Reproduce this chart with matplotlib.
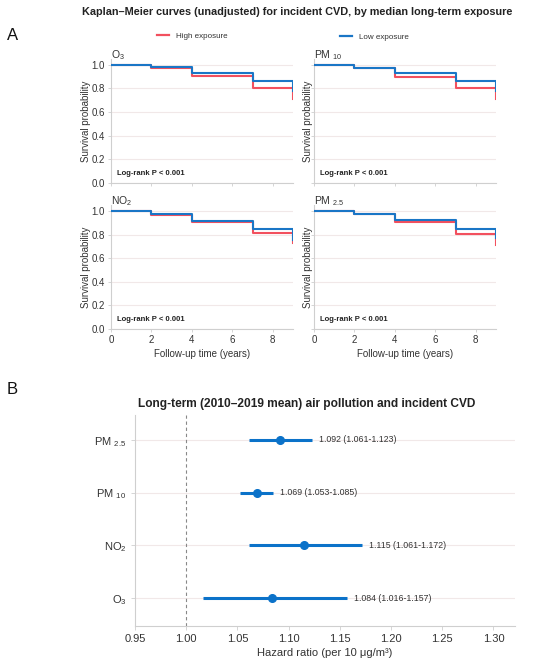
import matplotlib
matplotlib.use("Agg")
import matplotlib.pyplot as plt
from matplotlib.lines import Line2D

plt.rcParams['font.family'] = ['Liberation Sans', 'DejaVu Sans']
plt.rcParams['mathtext.fontset'] = 'custom'
plt.rcParams['mathtext.rm'] = 'Liberation Sans'

# ---- Data ----
km_times = [0, 2, 4, 7, 9]
km_panels = ['O$_3$', 'PM $_{10}$', 'NO$_2$', 'PM $_{2.5}$']
km_high = [
    [1.0, 0.972, 0.901, 0.803, 0.710],
    [1.0, 0.972, 0.900, 0.803, 0.710],
    [1.0, 0.969, 0.904, 0.812, 0.725],
    [1.0, 0.972, 0.907, 0.803, 0.710],
]
km_low = [
    [1.0, 0.983, 0.927, 0.859, 0.775],
    [1.0, 0.975, 0.927, 0.859, 0.775],
    [1.0, 0.978, 0.918, 0.846, 0.750],
    [1.0, 0.972, 0.921, 0.851, 0.770],
]
logrank_text = 'Log-rank P < 0.001'

forest_labels = ['O$_3$', 'NO$_2$', 'PM $_{10}$', 'PM $_{2.5}$']
forest_hr = [1.084, 1.115, 1.069, 1.092]
forest_lo = [1.016, 1.061, 1.053, 1.061]
forest_hi = [1.157, 1.172, 1.085, 1.123]
forest_ticks = [0.95, 1.00, 1.05, 1.10, 1.15, 1.20, 1.25, 1.30]

RED = '#f2505e'
BLUE = '#1a76c6'
FBLUE = '#0b72c9'
GRID = '#f1e8e8'
SPINE = '#cfcfcf'
TXT = '#333333'

fig = plt.figure(figsize=(5.5, 6.63), dpi=100)

W, H = 550.0, 663.0
def ax_rect(l, r, t, b):
    return [l / W, 1 - b / H, (r - l) / W, (b - t) / H]

rects = [
    ax_rect(111, 293, 58.8, 183),
    ax_rect(314, 496, 58.8, 183),
    ax_rect(111, 293, 205, 329),
    ax_rect(314, 496, 205, 329),
]

for i, rect in enumerate(rects):
    ax = fig.add_axes(rect)
    ax.step(km_times, km_high[i], where='post', color=RED, lw=1.5, zorder=3)
    ax.step(km_times, km_low[i], where='post', color=BLUE, lw=1.5, zorder=4)
    ax.set_xlim(0, 9)
    ax.set_ylim(0, 1.05)
    ax.set_yticks([0.0, 0.2, 0.4, 0.6, 0.8, 1.0])
    ax.set_xticks([0, 2, 4, 6, 8])
    ax.grid(axis='y', color=GRID, lw=0.8)
    ax.set_axisbelow(True)
    for s in ['top', 'right']:
        ax.spines[s].set_visible(False)
    for s in ['left', 'bottom']:
        ax.spines[s].set_color(SPINE)
        ax.spines[s].set_linewidth(0.8)
    ax.tick_params(length=2.5, width=0.6, color=SPINE, labelsize=7, labelcolor=TXT, pad=2)
    if i % 2 == 0:
        ax.set_yticklabels(['0.0', '0.2', '0.4', '0.6', '0.8', '1.0'])
        ax.set_ylabel('Survival probability', fontsize=7, color=TXT, labelpad=0)
    else:
        ax.tick_params(axis='y', labelleft=False)
        ax.set_ylabel('Survival probability', fontsize=7, color=TXT, labelpad=-1.5)
    if i < 2:
        ax.tick_params(axis='x', labelbottom=False)
    else:
        ax.set_xlabel('Follow-up time (years)', fontsize=7, color=TXT, labelpad=2.5)
    ax.text(0.0, 1.03, km_panels[i], transform=ax.transAxes, fontsize=7.5,
            color=TXT, ha='left', va='center')
    ax.text(0.033, 0.08, logrank_text, transform=ax.transAxes, fontsize=5.5,
            fontweight='bold', color='#222222', ha='left', va='center')

fig.text(297 / W, 1 - 12 / H, 'Kaplan\u2013Meier curves (unadjusted) for incident CVD, by median long-term exposure',
         ha='center', va='center', fontsize=7.8, fontweight='bold', color='#222222')
fig.text(13 / W, 1 - 35 / H, 'A', fontsize=12, ha='center', va='center', color='#111111')
fig.text(12 / W, 1 - 390 / H, 'B', fontsize=12, ha='center', va='center', color='#111111')

leg1 = fig.legend([Line2D([0], [0], color=RED, lw=1.6)], ['High exposure'],
                  loc='center left', bbox_to_anchor=(157 / W, 1 - 36 / H), frameon=False,
                  fontsize=5.8, handlelength=1.5, handletextpad=0.8, borderpad=0, borderaxespad=0)
for t in leg1.get_texts():
    t.set_color(TXT)
leg2 = fig.legend([Line2D([0], [0], color=BLUE, lw=1.6)], ['Low exposure'],
                  loc='center left', bbox_to_anchor=(340 / W, 1 - 37 / H), frameon=False,
                  fontsize=5.8, handlelength=1.5, handletextpad=0.8, borderpad=0, borderaxespad=0)
for t in leg2.get_texts():
    t.set_color(TXT)

# ---- Forest plot ----
axf = fig.add_axes(ax_rect(135, 515, 415, 626))
ypos = list(range(len(forest_labels)))
for y, hr, lo, hi in zip(ypos, forest_hr, forest_lo, forest_hi):
    axf.plot([lo, hi], [y, y], color=FBLUE, lw=2.2, solid_capstyle='butt', zorder=3)
    axf.plot([hr], [y], 'o', color=FBLUE, ms=5.5, zorder=4)
    axf.text(hi + 0.0065, y, f'{hr:.3f} ({lo:.3f}-{hi:.3f})', fontsize=6.3,
             color=TXT, ha='left', va='center')
axf.axvline(1.0, color='#888888', lw=0.8, ls=(0, (3, 2.5)), zorder=2)
axf.set_xlim(0.95, 1.321)
axf.set_ylim(-0.53, 3.47)
axf.set_yticks(ypos)
axf.set_yticklabels(forest_labels)
axf.set_xticks(forest_ticks)
axf.set_xticklabels([f'{t:.2f}' for t in forest_ticks])
axf.grid(axis='y', color=GRID, lw=0.8)
axf.set_axisbelow(True)
for s in ['top', 'right']:
    axf.spines[s].set_visible(False)
for s in ['left', 'bottom']:
    axf.spines[s].set_color(SPINE)
    axf.spines[s].set_linewidth(0.8)
axf.tick_params(length=3, width=0.6, color=SPINE, labelsize=8, labelcolor=TXT, pad=3)
axf.set_xlabel('Hazard ratio (per 10 \u03bcg/m\u00b3)', fontsize=8, color=TXT, labelpad=3)
fig.text(307 / W, 1 - 404 / H, 'Long-term (2010\u20132019 mean) air pollution and incident CVD',
         ha='center', va='center', fontsize=8.6, fontweight='bold', color='#222222')

fig.savefig('out.png', dpi=100)
